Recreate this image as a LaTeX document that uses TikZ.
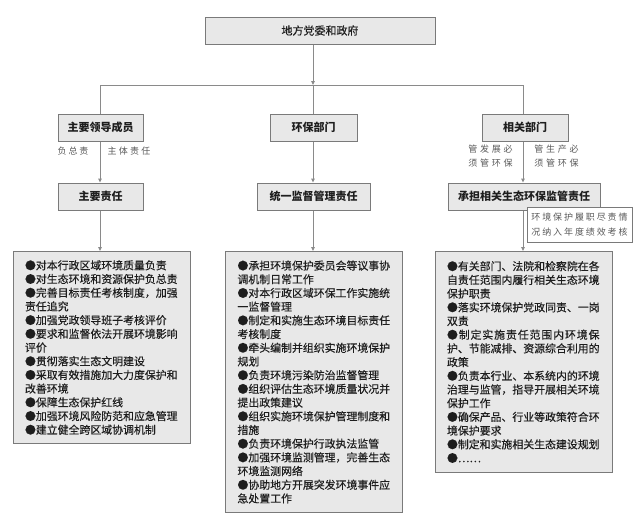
\documentclass[tikz,border=0pt]{standalone}
\usepackage{fontspec}
\newfontfamily\cjk{Noto Sans CJK SC}
\newfontfamily\cjkm{Noto Sans CJK SC}[FakeBold=0.35]
\usetikzlibrary{arrows.meta}
\definecolor{boxfill}{HTML}{E8E8E8}
\definecolor{boxline}{HTML}{7A7A7A}
\definecolor{wire}{HTML}{8A8A8A}
\definecolor{ink}{HTML}{1E1E1E}
\definecolor{lblink}{HTML}{5A5A5A}
\newdimen\lsp
\def\lspaced#1{\lspA#1\relax}
\def\lspA#1{#1\lspB}
\def\lspB#1{\ifx#1\relax\else\hspace{\lsp}#1\expandafter\lspB\fi}
\tikzset{
  hbox/.style={draw=boxline, fill=boxfill, line width=1pt, text=ink,
    font=\cjk\bfseries\fontsize{11}{13}\selectfont, inner sep=0pt, minimum height=27pt},
  topbox/.style={hbox, font=\cjkm\fontsize{11}{13}\selectfont},
  cbox/.style={draw=boxline, fill=boxfill, line width=1pt, text=ink, anchor=north,
    font=\cjkm\fontsize{10.9}{13.7}\selectfont, text width=153pt, align=left,
    inner xsep=12pt, inner ysep=0pt},
  lbl/.style={text=lblink, font=\cjk\fontsize{9}{14}\selectfont, inner sep=0pt, align=center},
  notebox/.style={draw=boxline, fill=white, line width=0.6pt, text=lblink,
    font=\cjk\fontsize{9}{15}\selectfont, align=center, inner sep=0pt,
    minimum width=105pt, minimum height=35pt},
  wireline/.style={draw=wire, line width=1pt},
  arr/.style={wireline, -{Triangle[length=4pt,width=3.6pt]}}
}
\begin{document}
\begin{tikzpicture}[x=1pt,y=-1pt]
\useasboundingbox[fill=white] (0,0) rectangle (640,528);
% top
\node[topbox, minimum width=230pt] (top) at (320,30.5) {地方党委和政府};
\coordinate (jm) at (313,85);
\coordinate (jl) at (100,85);
\coordinate (jr) at (523,85);
% level 2
\node[hbox, minimum width=85pt] (lead) at (100.5,127.5) {主要领导成员};
\node[hbox, minimum width=87pt] (hb) at (313.5,127.5) {环保部门};
\node[hbox, minimum width=86pt] (rel) at (525,127.5) {相关部门};
% level 3
\node[hbox, minimum width=85pt] (r1) at (100.5,196.5) {主要责任};
\node[hbox, minimum width=113pt] (r2) at (313.5,196.5) {统一监督管理责任};
\node[hbox, minimum width=152pt] (r3) at (524,196.5) {承担相关生态环保监管责任};
% connectors top
\draw[arr] (top.south -| jm) -- (jm);
\draw[wireline] (jl) -- (jr);
\draw[wireline] (jl) -- (jl |- lead.north);
\draw[wireline] (jm) -- (jm |- hb.north);
\draw[wireline] (jr) -- (jr |- rel.north);
% content boxes
\node[cbox, minimum height=192pt] (c1) at (101.5,251) {%
●对本行政区域环境质量负责\\
●对生态环境和资源保护负总责\\
●完善目标责任考核制度，加强\\
责任追究\\
●加强党政领导班子考核评价\\
●要求和监督依法开展环境影响\\
评价\\
●贯彻落实生态文明建设\\
●采取有效措施加大力度保护和\\
改善环境\\
●保障生态保护红线\\
●加强环境风险防范和应急管理\\
●建立健全跨区域协调机制};
\node[cbox, minimum height=261pt] (c2) at (314,251) {%
●承担环境保护委员会等议事协\\
调机制日常工作\\
●对本行政区域环保工作实施统\\
一监督管理\\
●制定和实施生态环境目标责任\\
考核制度\\
●牵头编制并组织实施环境保护\\
规划\\
●负责环境污染防治监督管理\\
●组织评估生态环境质量状况并\\
提出政策建议\\
●组织实施环境保护管理制度和\\
措施\\
●负责环境保护行政执法监管\\
●加强环境监测管理，完善生态\\
环境监测网络\\
●协助地方开展突发环境事件应\\
急处置工作};
\node[cbox, minimum height=221pt] (c3) at (523.5,251) {%
●有关部门、法院和检察院在各\\
自责任范围内履行相关生态环境\\
保护职责\\
●落实环境保护党政同责、一岗\\
双责\\
{\lsp=0.9pt\lspaced{●制定实施责任范围内环境保}}\\
护、节能减排、资源综合利用的\\
政策\\
●负责本行业、本系统内的环境\\
治理与监管，指导开展相关环境\\
保护工作\\
●确保产品、行业等政策符合环\\
境保护要求\\
●制定和实施相关生态建设规划\\
●……};
% connectors level 2 -> 3 -> content
\draw[arr] (jl |- lead.south) -- (jl |- r1.north);
\draw[arr] (jm |- hb.south) -- (jm |- r2.north);
\draw[arr] (jr |- rel.south) -- (jr |- r3.north);
\draw[arr] (jl |- r1.south) -- (jl |- c1.north);
\draw[arr] (jm |- r2.south) -- (jm |- c2.north);
\draw[arr] (jr |- r3.south) -- (jr |- c3.north);
% edge labels
\node[lbl] (l1) at (73,151) {\lsp=1.8pt\lspaced{负总责}};
\node[lbl] (l2) at (129,151) {\lsp=2.2pt\lspaced{主体责任}};
\node[lbl] (l3) at (490.5,156) {\lsp=2.8pt\lspaced{管发展必}\\\lsp=2.8pt\lspaced{须管环保}};
\node[lbl] (l4) at (556.5,156) {\lsp=2.8pt\lspaced{管生产必}\\\lsp=2.8pt\lspaced{须管环保}};
% note
\node[notebox] (note) at (579.5,224.5) {\lsp=1.9pt\lspaced{环境保护履职尽责情}\\\lsp=1.9pt\lspaced{况纳入年度绩效考核}};
\end{tikzpicture}
\end{document}
